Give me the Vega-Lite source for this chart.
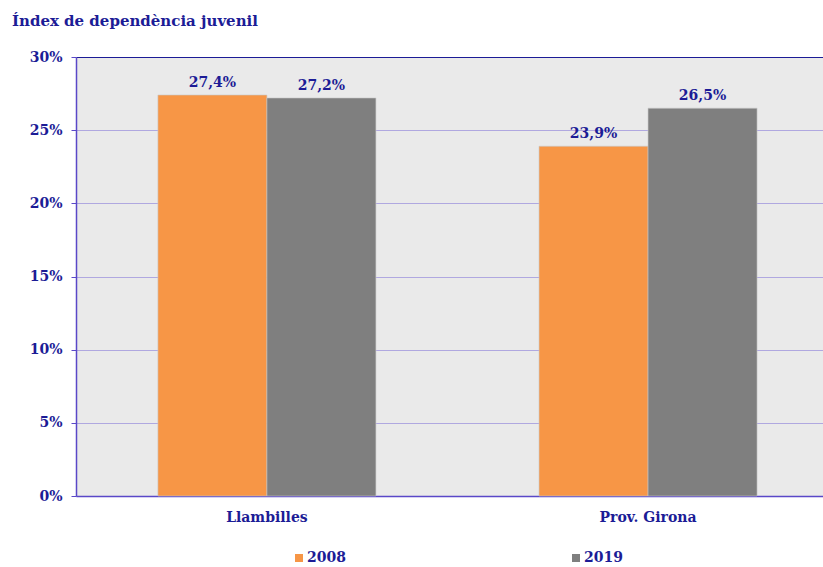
{
  "$schema": "https://vega.github.io/schema/vega-lite/v6.json",
  "width": 747,
  "height": 439,
  "autosize": {"type": "none"},
  "padding": {"left": 76, "top": 57, "right": 0, "bottom": 71},
  "background": "white",
  "title": {
    "text": "Índex de dependència juvenil",
    "anchor": "start",
    "frame": "group",
    "dx": -64,
    "offset": 21,
    "font": "DejaVu Serif",
    "fontSize": 15,
    "fontWeight": "bold",
    "color": "#1c1c96"
  },
  "config": {
    "locale": {"number": {"decimal": ",", "thousands": ".", "grouping": [3], "currency": ["", " €"]}},
    "view": {"fill": "#eaeaea", "stroke": null},
    "font": "DejaVu Serif"
  },
  "data": {
    "values": [
      {"territori": "Llambilles", "any": "2008", "valor": 0.274},
      {"territori": "Llambilles", "any": "2019", "valor": 0.272},
      {"territori": "Prov. Girona", "any": "2008", "valor": 0.239},
      {"territori": "Prov. Girona", "any": "2019", "valor": 0.265}
    ]
  },
  "encoding": {
    "x": {
      "field": "territori",
      "type": "nominal",
      "sort": null,
      "scale": {"paddingInner": 0.428, "paddingOuter": 0.194, "align": 0.554},
      "axis": {
        "title": null,
        "labelAngle": 0,
        "labelFont": "DejaVu Serif",
        "labelFontSize": 14,
        "labelFontWeight": "bold",
        "labelColor": "#1c1c96",
        "labelPadding": 14,
        "ticks": false,
        "domainColor": "#5a48c8",
        "domainWidth": 1.5
      }
    },
    "xOffset": {"field": "any", "type": "nominal", "scale": {"paddingInner": 0, "paddingOuter": 0}},
    "y": {
      "field": "valor",
      "type": "quantitative",
      "scale": {"domain": [0, 0.3], "nice": false},
      "axis": {
        "title": null,
        "values": [0, 0.05, 0.1, 0.15, 0.2, 0.25, 0.3],
        "format": ".0%",
        "labelFont": "DejaVu Serif",
        "labelFontSize": 14,
        "labelFontWeight": "bold",
        "labelColor": "#1c1c96",
        "labelPadding": 9,
        "tickSize": 5,
        "tickColor": "#5a48c8",
        "domainColor": "#5a48c8",
        "domainWidth": 1.5,
        "gridColor": {"condition": {"test": "datum.value >= 0.3", "value": "#1c1c96"}, "value": "#b0a8e0"},
        "gridWidth": 1.2
      }
    }
  },
  "layer": [
    {
      "mark": {"type": "bar", "stroke": "#c8c8c8", "strokeWidth": 0.6},
      "encoding": {
        "color": {
          "field": "any",
          "type": "nominal",
          "scale": {"domain": ["2008", "2019"], "range": ["#f79646", "#7f7f7f"]},
          "legend": {
            "title": null,
            "orient": "none",
            "legendX": 216,
            "legendY": 494,
            "direction": "horizontal",
            "symbolType": "square",
            "symbolSize": 64,
            "symbolStrokeWidth": 0,
            "symbolOffset": 0,
            "labelFont": "DejaVu Serif",
            "labelFontSize": 14,
            "labelFontWeight": "bold",
            "labelColor": "#1c1c96",
            "labelOffset": 1,
            "columnPadding": 223
          }
        }
      }
    },
    {
      "mark": {
        "type": "text",
        "baseline": "bottom",
        "dy": -5,
        "font": "DejaVu Serif",
        "fontSize": 14,
        "fontWeight": "bold",
        "color": "#1c1c96"
      },
      "encoding": {
        "text": {"field": "valor", "type": "quantitative", "format": ".1%"}
      }
    }
  ]
}
